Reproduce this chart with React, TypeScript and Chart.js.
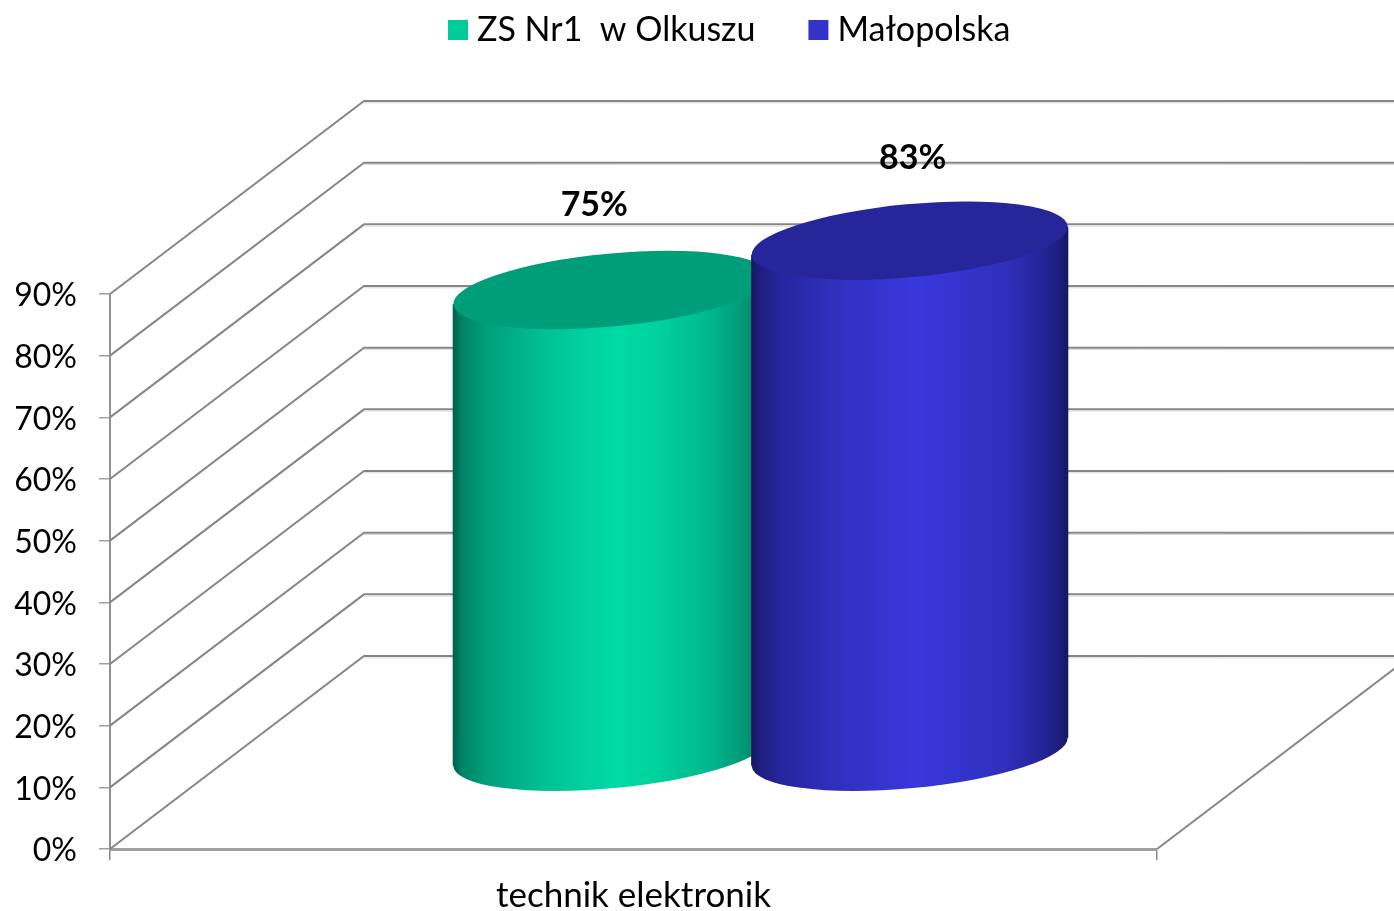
import React, { useEffect, useRef } from "react";
import { Chart, registerables } from "chart.js";

Chart.register(...registerables);

const categories = ["technik elektronik"];
const seriesNames = ["ZS Nr1  w Olkuszu", "Małopolska"];
const zsValues = [75];
const malopolskaValues = [83];
const yTicks = { min: 0, max: 90, step: 10 };

const legendColors = ["#00CC99", "#3333CC"];
const topColors = ["#009E78", "#26269A"];
const bodyStops: [number, string][][] = [
  [[0, "#00604A"], [0.03, "#008366"], [0.1, "#009E79"], [0.25, "#00BA8D"], [0.4, "#00CFA0"], [0.52, "#00DBA3"], [0.65, "#00D09C"], [0.8, "#00BA8D"], [0.9, "#009E79"], [0.97, "#008366"], [1, "#00604A"]],
  [[0, "#16165F"], [0.03, "#1E1E80"], [0.1, "#2626A0"], [0.25, "#2F2FBC"], [0.4, "#3434CE"], [0.52, "#3838DC"], [0.65, "#3434CE"], [0.8, "#2F2FBC"], [0.9, "#2626A0"], [0.97, "#1E1E80"], [1, "#16165F"]],
];
const labelOffsets = [{ dx: 110, dy: -181 }, { dx: 130, dy: -179 }];

const FONT = "Lato";
const DEPTH_X = 254;
const DEPTH_Y = -193;
const RX = 158.6;
const RY = 36.5;
const TILT = (-5.33 * Math.PI) / 180;
const EDGE_Y = 14;
const GRID = "#868686";
const LEGEND_PADDING = 61;

const scene3d = {
  id: "scene3d",
  afterLayout(chart: any) {
    chart.legend.left = 456 - LEGEND_PADDING;
    chart.legend.right = 1394;
    chart.legend.top = 30 - 17 - LEGEND_PADDING;
  },
  beforeDatasetsDraw(chart: any) {
    const { ctx, chartArea, scales } = chart;
    const y = scales.y;
    ctx.save();
    ctx.lineCap = "butt";
    for (const t of y.ticks) {
      const py = y.getPixelForValue(t.value);
      ctx.strokeStyle = GRID;
      ctx.lineWidth = 2;
      ctx.beginPath();
      ctx.moveTo(chartArea.left, py);
      ctx.lineTo(chartArea.left + DEPTH_X, py + DEPTH_Y);
      ctx.lineTo(1394, py + DEPTH_Y);
      ctx.stroke();
      ctx.strokeStyle = "#D9D9D9";
      ctx.lineWidth = 1;
      ctx.beginPath();
      ctx.moveTo(chartArea.left + DEPTH_X, py + DEPTH_Y + 1.8);
      ctx.lineTo(1394, py + DEPTH_Y + 1.8);
      ctx.stroke();
    }
    const by = y.getPixelForValue(yTicks.min);
    ctx.strokeStyle = GRID;
    ctx.lineWidth = 2;
    ctx.beginPath();
    ctx.moveTo(chartArea.right, by);
    ctx.lineTo(chartArea.right + DEPTH_X, by + DEPTH_Y);
    ctx.stroke();

    chart.data.datasets.forEach((_: any, i: number) => {
      const meta = chart.getDatasetMeta(i);
      meta.data.forEach((el: any) => {
        const cx = el.x + DEPTH_X / 2;
        const top = el.y + DEPTH_Y / 2;
        const bot = el.base + DEPTH_Y / 2;
        const L = cx - RX;
        const R = cx + RX;
        const g = ctx.createLinearGradient(L, 0, R, 0);
        bodyStops[i].forEach(([o, c]) => g.addColorStop(o, c));
        ctx.fillStyle = g;
        ctx.beginPath();
        ctx.moveTo(L, top + EDGE_Y);
        ctx.lineTo(L, bot + EDGE_Y);
        ctx.lineTo(R, bot - EDGE_Y);
        ctx.lineTo(R, top - EDGE_Y);
        ctx.closePath();
        ctx.fill();
        ctx.beginPath();
        ctx.ellipse(cx, bot, RX, RY, TILT, 0, Math.PI * 2);
        ctx.fill();
        ctx.fillStyle = topColors[i];
        ctx.beginPath();
        ctx.ellipse(cx, top, RX, RY, TILT, 0, Math.PI * 2);
        ctx.fill();
      });
    });

    ctx.fillStyle = "#000";
    ctx.font = `bold 34px ${FONT}`;
    ctx.textAlign = "center";
    ctx.textBaseline = "middle";
    chart.data.datasets.forEach((ds: any, i: number) => {
      chart.getDatasetMeta(i).data.forEach((el: any, j: number) => {
        const o = labelOffsets[i];
        ctx.fillText(`${ds.data[j]}%`, el.x + o.dx, el.y + o.dy);
      });
    });
    ctx.restore();
    return false;
  },
};

export default function App() {
  const ref = useRef<HTMLCanvasElement>(null);
  useEffect(() => {
    const chart = new Chart(ref.current as HTMLCanvasElement, {
      type: "bar",
      data: {
        labels: categories,
        datasets: [
          { label: seriesNames[0], data: zsValues, backgroundColor: legendColors[0], borderWidth: 0 },
          { label: seriesNames[1], data: malopolskaValues, backgroundColor: legendColors[1], borderWidth: 0 },
        ],
      },
      plugins: [scene3d],
      options: {
        responsive: false,
        animation: false,
        layout: { padding: { top: 189, right: 237, bottom: 0, left: 0 } },
        datasets: { bar: { categoryPercentage: 0.57, barPercentage: 1 } },
        plugins: {
          tooltip: { enabled: false },
          legend: {
            position: "top",
            align: "start",
            labels: {
              usePointStyle: true,
              pointStyle: "rect",
              boxWidth: 4,
              boxHeight: 20,
              padding: LEGEND_PADDING,
              color: "#000",
              font: { family: FONT, size: 34 },
            },
          },
        },
        scales: {
          x: {
            afterFit(s: any) { s.height = 62; },
            grid: { drawOnChartArea: false, color: GRID, tickLength: 11, lineWidth: 1.5 },
            border: { color: "#A0A0A0", width: 3 },
            ticks: { color: "#000", padding: 15, font: { family: FONT, size: 35 } },
          },
          y: {
            min: yTicks.min,
            max: yTicks.max,
            afterFit(s: any) { s.width = 110; },
            grid: { drawOnChartArea: false, color: "#A0A0A0", tickLength: 11, lineWidth: 1.5 },
            border: { color: "#909090", width: 2 },
            ticks: {
              stepSize: yTicks.step,
              color: "#000",
              padding: 22,
              labelOffset: 2,
              font: { family: FONT, size: 32 },
              callback: (v: any) => `${v}%`,
            },
          },
        },
      },
    } as any);
    return () => chart.destroy();
  }, []);
  return (
    <div style={{ position: "absolute", left: 0, top: 0, width: 1394, height: 911, background: "#fff" }}>
      <canvas ref={ref} width={1394} height={911} style={{ display: "block" }} />
    </div>
  );
}
